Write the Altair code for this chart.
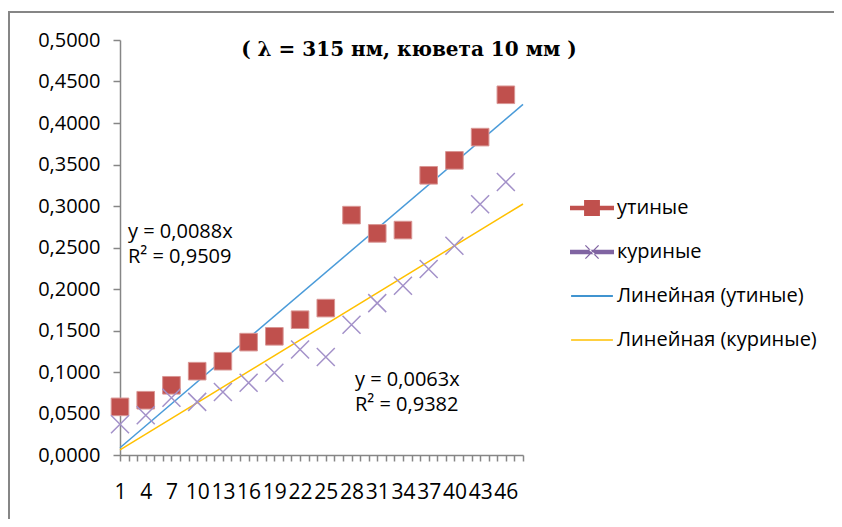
import altair as alt
import pandas as pd

# ---- data ----
categories = [1, 4, 7, 10, 13, 16, 19, 22, 25, 28, 31, 34, 37, 40, 43, 46]
duck = [0.058, 0.066, 0.084, 0.101, 0.113, 0.136, 0.143, 0.163, 0.177,
        0.289, 0.267, 0.271, 0.337, 0.355, 0.383, 0.434]
chicken = [0.037, 0.048, 0.069, 0.064, 0.076, 0.087, 0.099, 0.127, 0.118,
           0.157, 0.183, 0.204, 0.224, 0.252, 0.302, 0.329]
x_ticks = list(range(1, 49))
y_ticks = [0.0, 0.05, 0.1, 0.15, 0.2, 0.25, 0.3, 0.35, 0.4, 0.45, 0.5]
trend_x = [1, 48]
duck_trend = [0.0088, 0.4224]
chicken_trend = [0.0063, 0.3024]
series_labels = ["утиные", "куриные", "Линейная (утиные)", "Линейная (куриные)"]
series_colors = ["#C0504D", "#8064A2", "#0070C0", "#FFC000"]
eq_duck = ["y = 0,0088x", "R² = 0,9509"]
eq_chicken = ["y = 0,0063x", "R² = 0,9382"]
title_text = "( λ = 315 нм, кювета 10 мм )"

FONT = "Open Sans"
GREY = "#868686"

pts = pd.DataFrame({"x": categories * 2,
                    "value": duck + chicken,
                    "series": ["утиные"] * len(duck) + ["куриные"] * len(chicken)})
trend = pd.DataFrame({"x": trend_x * 2,
                      "value": duck_trend + chicken_trend,
                      "series": ["Линейная (утиные)"] * 2 + ["Линейная (куриные)"] * 2})
legend_df = pd.DataFrame({"series": series_labels, "x": [200] * 4, "value": [0.25] * 4})


def xenc():
    return alt.X("x:Q",
                 scale=alt.Scale(domain=[1, 48], nice=False, zero=False),
                 axis=alt.Axis(values=x_ticks, title=None, grid=False,
                               labelExpr="datum.value % 3 == 1 ? datum.value : ''",
                               tickSize=6, labelPadding=20, labelFont=FONT,
                               labelFontSize=21, labelColor="#000",
                               labelOverlap=False, labelFlush=False,
                               domainColor=GREY, domainWidth=1.5,
                               tickColor=GREY, tickWidth=1.5))


def yenc():
    return alt.Y("value:Q",
                 scale=alt.Scale(domain=[0, 0.5], nice=False, zero=True),
                 axis=alt.Axis(values=y_ticks, title=None, grid=False,
                               labelExpr="replace(format(datum.value, '.4f'), '.', ',')",
                               tickSize=7, labelPadding=13, labelFont=FONT,
                               labelFontSize=20, labelColor="#000",
                               labelOverlap=False, labelFlush=False,
                               domainColor=GREY, domainWidth=1.5,
                               tickColor=GREY, tickWidth=1.5))


base_pts = alt.Chart(pts)

duck_layer = base_pts.transform_filter(alt.datum.series == "утиные").mark_point(
    shape="square", filled=True, size=310, color="#C0504D",
    stroke="#D99694", strokeWidth=1, opacity=1
).encode(x=xenc(), y=yenc())

chicken_layer = base_pts.transform_filter(alt.datum.series == "куриные").mark_point(
    shape="M-1,-1L1,1M-1,1L1,-1", filled=False, size=324, color="#A391C9",
    strokeWidth=1.5, opacity=1
).encode(x=xenc(), y=yenc())

trend_duck = alt.Chart(trend).transform_filter(
    alt.datum.series == "Линейная (утиные)").mark_line(
    color="#4A9BD9", strokeWidth=1.5).encode(x=xenc(), y=yenc())

trend_chicken = alt.Chart(trend).transform_filter(
    alt.datum.series == "Линейная (куриные)").mark_line(
    color="#FFC000", strokeWidth=1.5).encode(x=xenc(), y=yenc())

paths = [
    "M-1,-0.1H1V0.1H-1Z M-0.36,-0.36H0.36V0.36H-0.36Z",
    "M-1,-0.1H1V0.1H-1Z M-0.32,-0.28L0.28,0.32L0.32,0.28L-0.28,-0.32Z M-0.32,0.28L0.28,-0.32L0.32,-0.28L-0.28,0.32Z",
    "M-0.95,-0.03H0.95V0.03H-0.95Z",
    "M-0.95,-0.03H0.95V0.03H-0.95Z",
]
leg = dict(orient="none", legendX=450, legendY=146, title=None,
           labelFont=FONT, labelFontSize=20, labelColor="#000", labelLimit=0,
           symbolSize=1936, symbolStrokeWidth=0, labelOffset=3, rowPadding=12,
           symbolOpacity=1)
legend_layer = alt.Chart(legend_df).mark_point(filled=True, clip=True).encode(
    x=xenc(), y=yenc(),
    color=alt.Color("series:N", scale=alt.Scale(domain=series_labels, range=series_colors),
                    legend=alt.Legend(**leg)),
    shape=alt.Shape("series:N", scale=alt.Scale(domain=series_labels, range=paths),
                    legend=alt.Legend(**leg)),
)


def eq_text(lines, idx, px, py):
    return alt.Chart(pd.DataFrame({"t": lines, "i": [0, 1]})).transform_filter(
        f"datum.i == {idx}").mark_text(
        align="left", baseline="middle", font=FONT, fontSize=20, color="#000"
    ).encode(text="t:N", x=alt.value(px), y=alt.value(py))


eq1 = eq_text(eq_duck, 0, 8, 192)
eq1b = eq_text(eq_duck, 1, 8, 217)
eq2 = eq_text(eq_chicken, 0, 235, 340)
eq2b = eq_text(eq_chicken, 1, 235, 365)

title_layer = alt.Chart(pd.DataFrame({"t": [title_text]})).mark_text(
    align="center", baseline="middle", font="DejaVu Serif", fontWeight="bold",
    fontSize=20, color="#000"
).encode(text="t:N", x=alt.value(289), y=alt.value(10))

frame = alt.Chart(pd.DataFrame({"a": [0]})).mark_rect(
    fill=None, stroke=GREY, strokeWidth=2
).encode(x=alt.value(-111), x2=alt.value(717), y=alt.value(-28), y2=alt.value(520))

chart = alt.layer(
    frame, trend_duck, trend_chicken, duck_layer, chicken_layer, legend_layer,
    eq1, eq1b, eq2, eq2b, title_layer
).properties(
    width=403, height=415,
    autosize=alt.AutoSizeParams(type="none"),
    padding={"left": 112, "top": 32, "right": 311, "bottom": 64},
    background="white"
).configure_view(stroke=None)

chart.save("out.html", embed_options={"renderer": "svg", "actions": False})
